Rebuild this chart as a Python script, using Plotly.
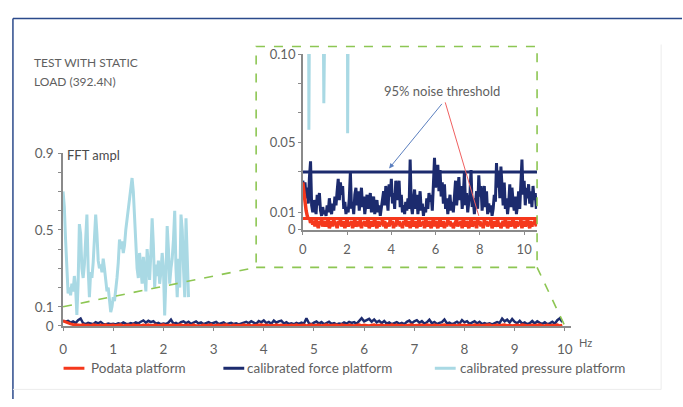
import numpy as np
import plotly.graph_objects as go

W, H = 683, 407

# ---- data -------------------------------------------------------------
# calibrated pressure platform FFT amplitude, 0-2.5 Hz every 0.025 Hz
pressure_step = 0.025
pressure_ampl = [
    0.70, 0.62, 0.45, 0.28, 0.17, 0.20, 0.16, 0.22, 0.18, 0.26,
    0.20, 0.057, 0.22, 0.53, 0.48, 0.30, 0.25, 0.32, 0.45, 0.58,
    0.30, 0.15, 0.28, 0.25, 0.33, 0.45, 0.58, 0.48, 0.34, 0.30,
    0.32, 0.28, 0.35, 0.30, 0.22, 0.18, 0.20, 0.12, 0.072, 0.10,
    0.15, 0.13, 0.18, 0.25, 0.33, 0.45, 0.40, 0.44, 0.38, 0.42,
    0.50, 0.55, 0.60, 0.66, 0.72, 0.77, 0.70, 0.55, 0.42, 0.30,
    0.25, 0.38, 0.30, 0.22, 0.36, 0.28, 0.18, 0.40, 0.30, 0.24,
    0.38, 0.56, 0.42, 0.20, 0.32, 0.26, 0.34, 0.22, 0.28, 0.38,
    0.30, 0.055, 0.25, 0.52, 0.40, 0.22, 0.30, 0.35, 0.45, 0.60,
    0.30, 0.15, 0.35, 0.20, 0.58, 0.50, 0.30, 0.15, 0.56, 0.40,
    0.15,
]

# calibrated force platform and Podata platform, every 0.05 Hz (x 1e-3)
spectrum_step = 0.05
force_ampl_milli = [
    28, 22, 27, 18, 24, 15, 30, 39, 14, 10, 17, 12, 9, 20, 14, 21, 11, 8, 13, 9,
    11, 8, 14, 10, 18, 12, 9, 15, 11, 19, 14, 22, 29, 17, 27, 20, 25, 12, 16, 9,
    13, 10, 18, 33, 12, 16, 9, 20, 24, 14, 22, 11, 18, 24, 13, 19, 9, 15, 20, 12,
    18, 21, 10, 15, 19, 9, 12, 17, 10, 14, 8, 12, 16, 22, 14, 25, 18, 11, 26, 19,
    29, 15, 21, 12, 28, 17, 24, 28, 13, 20, 10, 14, 9, 16, 11, 18, 12, 40, 14, 9,
    17, 23, 12, 20, 9, 16, 22, 11, 15, 8, 13, 10, 18, 12, 21, 16, 20, 11, 26, 41,
    24, 30, 37, 22, 34, 19, 27, 15, 26, 12, 18, 9, 14, 20, 11, 16, 10, 22, 28, 14,
    24, 30, 17, 25, 12, 19, 33, 14, 21, 10, 16, 20, 34, 13, 18, 9, 15, 22, 12, 31,
    19, 25, 11, 17, 25, 13, 22, 9, 15, 10, 14, 8, 12, 20, 16, 38, 24, 33, 18, 36,
    22, 14, 27, 12, 18, 9, 15, 26, 13, 24, 16, 11, 19, 9, 14, 22, 12, 30, 40, 20,
    28, 14, 24, 18, 26, 15, 22, 13, 25, 17, 21, 12,
]
podata_ampl_milli = [
    27, 21, 15, 11, 8, 6, 7, 4, 6, 3, 5, 2, 6, 4, 1, 5, 3, 6, 2, 4,
    5, 2, 4, 6, 1, 3, 5, 2, 6, 3, 4, 1, 5, 3, 6, 2, 4, 5, 1, 3,
    6, 2, 4, 3, 5, 1, 4, 6, 2, 3, 5, 2, 6, 1, 4, 3, 5, 2, 4, 6,
    1, 3, 5, 2, 4, 6, 3, 1, 5, 2, 4, 3, 6, 2, 5, 1, 3, 4, 2, 6,
    3, 5, 1, 4, 2, 6, 3, 5, 2, 4, 1, 5, 3, 6, 2, 4, 5, 1, 3, 6,
    2, 4, 5, 1, 3, 6, 2, 4, 3, 5, 1, 6, 4, 2, 5, 3, 1, 4, 6, 2,
    5, 3, 1, 4, 6, 2, 3, 5, 1, 4, 2, 6, 3, 5, 2, 4, 1, 3, 5, 6,
    2, 4, 3, 5, 1, 6, 4, 2, 5, 3, 1, 4, 6, 2, 3, 5, 4, 1, 6, 3,
    5, 2, 4, 1, 6, 3, 5, 2, 4, 3, 6, 1, 4, 5, 2, 3, 6, 2, 4, 1,
    3, 5, 2, 6, 4, 1, 3, 5, 2, 4, 6, 3, 1, 5, 2, 4, 3, 6, 1, 4,
    5, 2, 4, 6, 3, 1, 5, 2, 4, 3, 6, 2,
]

# 95% noise thresholds
force_threshold = 0.033
podata_threshold = 0.0065

main_xticks = list(range(0, 11))
main_yticks = [0, 0.1, 0.5, 0.9]
main_yticklabels = ["0", "0.1", "0.5", "0.9"]
inset_xticks = [0, 2, 4, 6, 8, 10]
inset_yticks = [0, 0.01, 0.05, 0.10]
inset_yticklabels = ["0", "0.01", "0.05", "0.10"]

series_names = ["Podata platform", "calibrated force platform",
                "calibrated pressure platform"]

# ---- derived arrays ---------------------------------------------------
p_freq = np.round(np.arange(len(pressure_ampl)) * pressure_step, 3)
s_freq = np.round(np.arange(len(force_ampl_milli)) * spectrum_step, 3)
force_ampl = np.array(force_ampl_milli) / 1000.0
podata_ampl = np.array(podata_ampl_milli) / 1000.0
main_mask = s_freq <= 9.95

RED = "#F5381C"
NAVY = "#1C2B6E"
LBLUE = "#A9D9E4"
GREEN = "#8DC653"
GREY_TXT = "#5f5f5f"
AXIS = "#8a8a8a"
FONT = "Lato"

# ---- layout geometry (pixels -> paper) -------------------------------
def px(xp):
    return xp / W

def py(yp):
    return 1 - yp / H

main_x_dom = [px(59.5), px(571.5)]
main_x_rng = [0, (571.5 - 59.5) / 50.55]
main_y_dom = [py(331), py(151)]
main_y_rng = [0, 0.9]

ins_x_dom = [px(301), px(537)]
ins_x_rng = [0, (537 - 301) / 22.3]
ins_y_dom = [py(231), py(48)]
ins_y_rng = [0, 0.10]


def main_to_paper(x, y):
    fx = (x - main_x_rng[0]) / (main_x_rng[1] - main_x_rng[0])
    fy = (y - main_y_rng[0]) / (main_y_rng[1] - main_y_rng[0])
    return (main_x_dom[0] + fx * (main_x_dom[1] - main_x_dom[0]),
            main_y_dom[0] + fy * (main_y_dom[1] - main_y_dom[0]))


def labelled_ticks(all_vals, labelled_vals, labels):
    text = []
    for v in all_vals:
        match = [lab for t, lab in zip(labelled_vals, labels) if abs(t - v) < 1e-9]
        text.append(match[0] if match else "")
    return text


fig = go.Figure()

# main spectrum
fig.add_trace(go.Scatter(x=p_freq, y=pressure_ampl, mode="lines",
                         line=dict(color=LBLUE, width=3),
                         xaxis="x", yaxis="y", showlegend=False))
fig.add_trace(go.Scatter(x=s_freq[main_mask], y=force_ampl[main_mask], mode="lines",
                         line=dict(color=NAVY, width=2.5),
                         xaxis="x", yaxis="y", showlegend=False))
fig.add_trace(go.Scatter(x=s_freq[main_mask], y=podata_ampl[main_mask], mode="lines",
                         line=dict(color=RED, width=3),
                         xaxis="x", yaxis="y", showlegend=False))

# zoomed view of the low-amplitude region
fig.add_trace(go.Scatter(x=p_freq, y=pressure_ampl, mode="lines",
                         line=dict(color=LBLUE, width=3),
                         xaxis="x2", yaxis="y2", showlegend=False))
fig.add_trace(go.Scatter(x=s_freq, y=force_ampl, mode="lines",
                         line=dict(color=NAVY, width=3),
                         xaxis="x2", yaxis="y2", showlegend=False))
fig.add_trace(go.Scatter(x=ins_x_rng, y=[force_threshold] * 2, mode="lines",
                         line=dict(color=NAVY, width=3),
                         xaxis="x2", yaxis="y2", showlegend=False))
fig.add_trace(go.Scatter(x=s_freq, y=podata_ampl, mode="lines",
                         line=dict(color=RED, width=3.5),
                         xaxis="x2", yaxis="y2", showlegend=False))
fig.add_trace(go.Scatter(x=ins_x_rng, y=[podata_threshold] * 2, mode="lines",
                         line=dict(color=RED, width=3),
                         xaxis="x2", yaxis="y2", showlegend=False))

axis_common = dict(showgrid=False, zeroline=False, showline=True,
                   linecolor=AXIS, linewidth=1.5, ticks="outside",
                   tickcolor=AXIS, ticklen=3, fixedrange=True)

main_ytickvals = [round(v * 0.1, 1) for v in range(10)]
main_yticktext = labelled_ticks(main_ytickvals, main_yticks, main_yticklabels)

ins_ytickvals = [0, 0.01, 0.1 / 3, 0.05, 0.2 / 3, 0.25 / 3, 0.10]
ins_yticktext = labelled_ticks(ins_ytickvals, inset_yticks, inset_yticklabels)

fig.update_layout(
    width=W, height=H,
    margin=dict(l=0, r=0, t=0, b=0),
    paper_bgcolor="white", plot_bgcolor="rgba(0,0,0,0)",
    font=dict(family=FONT, color=GREY_TXT, size=13),
    xaxis=dict(axis_common, domain=main_x_dom, range=main_x_rng, anchor="y",
               tickvals=main_xticks, ticklabelstandoff=7,
               tickfont=dict(size=13.5, color=GREY_TXT)),
    yaxis=dict(axis_common, domain=main_y_dom, range=main_y_rng, anchor="x",
               tickvals=main_ytickvals, ticktext=main_yticktext,
               ticklabelstandoff=2, tickfont=dict(size=13.5, color=GREY_TXT)),
    xaxis2=dict(axis_common, domain=ins_x_dom, range=ins_x_rng, anchor="y2",
                tickvals=inset_xticks, ticklabelstandoff=4,
                tickfont=dict(size=13, color=GREY_TXT)),
    yaxis2=dict(axis_common, domain=ins_y_dom, range=ins_y_rng, anchor="x2",
                tickvals=ins_ytickvals, ticktext=ins_yticktext,
                tickfont=dict(size=13, color=GREY_TXT)),
    showlegend=False,
)

shapes = []
# outer frame
shapes.append(dict(type="line", xref="paper", yref="paper",
                   x0=px(9), y0=py(11), x1=1, y1=py(11),
                   line=dict(color="#2B4A8B", width=1.5)))
shapes.append(dict(type="line", xref="paper", yref="paper",
                   x0=px(9), y0=py(11), x1=px(9), y1=0,
                   line=dict(color="#2B4A8B", width=1.5)))
shapes.append(dict(type="line", xref="paper", yref="paper",
                   x0=px(662), y0=py(38), x1=px(662), y1=py(397),
                   line=dict(color="#ececec", width=1)))
shapes.append(dict(type="line", xref="paper", yref="paper",
                   x0=px(9), y0=py(397), x1=px(662), y1=py(397),
                   line=dict(color="#ececec", width=1)))

# zoom box and its connectors
box_l, box_r, box_t, box_b = px(254), px(537), py(40), py(270)
dash = dict(color=GREEN, width=1.6, dash="dash")
shapes.append(dict(type="rect", xref="paper", yref="paper",
                   x0=box_l, x1=box_r, y0=box_b, y1=box_t, line=dash))
cx0, cy0 = main_to_paper(0, 0.1)
shapes.append(dict(type="line", xref="paper", yref="paper",
                   x0=cx0, y0=cy0, x1=box_l, y1=box_b, line=dash))
cx1, cy1 = main_to_paper(10, 0)
shapes.append(dict(type="line", xref="paper", yref="paper",
                   x0=box_r, y0=box_b, x1=cx1, y1=cy1, line=dash))

# legend samples
legend_y = py(375)
legend_items = [(px(60), px(81), px(86), RED, 3),
                (px(221), px(242), px(243), NAVY, 3),
                (px(434), px(455), px(457), LBLUE, 3)]
annotations = []
for (x0, x1, xt, col, w), name in zip(legend_items, series_names):
    shapes.append(dict(type="line", xref="paper", yref="paper",
                       x0=x0, x1=x1, y0=legend_y, y1=legend_y,
                       line=dict(color=col, width=w)))
    annotations.append(dict(xref="paper", yref="paper", x=xt, y=legend_y,
                            text=name, showarrow=False, xanchor="left",
                            yanchor="middle", font=dict(size=13.5, color=GREY_TXT)))

annotations += [
    dict(xref="paper", yref="paper", x=px(28), y=py(57), text="TEST WITH STATIC",
         showarrow=False, xanchor="left", yanchor="middle",
         font=dict(size=12, color=GREY_TXT)),
    dict(xref="paper", yref="paper", x=px(28), y=py(77), text="LOAD (392.4N)",
         showarrow=False, xanchor="left", yanchor="middle",
         font=dict(size=12, color=GREY_TXT)),
    dict(xref="paper", yref="paper", x=px(61), y=py(153), text="FFT ampl",
         showarrow=False, xanchor="left", yanchor="middle",
         font=dict(size=13, color="#4a4a4a")),
    dict(xref="paper", yref="paper", x=px(577), y=py(348), text="Hz",
         showarrow=False, xanchor="left", yanchor="middle",
         font=dict(size=11, color=GREY_TXT)),
    dict(xref="paper", yref="paper", x=px(441), y=py(86), text="95% noise threshold",
         showarrow=False, xanchor="center", yanchor="middle",
         font=dict(size=13, color=GREY_TXT)),
    # pointers to the two threshold lines
    dict(xref="x2", yref="y2", x=3.9, y=0.035, ax=54, ay=-66,
         showarrow=True, arrowhead=2, arrowsize=1, arrowwidth=1,
         arrowcolor="#5b7fbf", text=""),
    dict(xref="x2", yref="y2", x=7.95, y=0.008, ax=-34, ay=-115,
         showarrow=True, arrowhead=0, arrowwidth=1,
         arrowcolor="#f06060", text=""),
]

fig.update_layout(shapes=shapes, annotations=annotations)
fig.write_html("out.html")
